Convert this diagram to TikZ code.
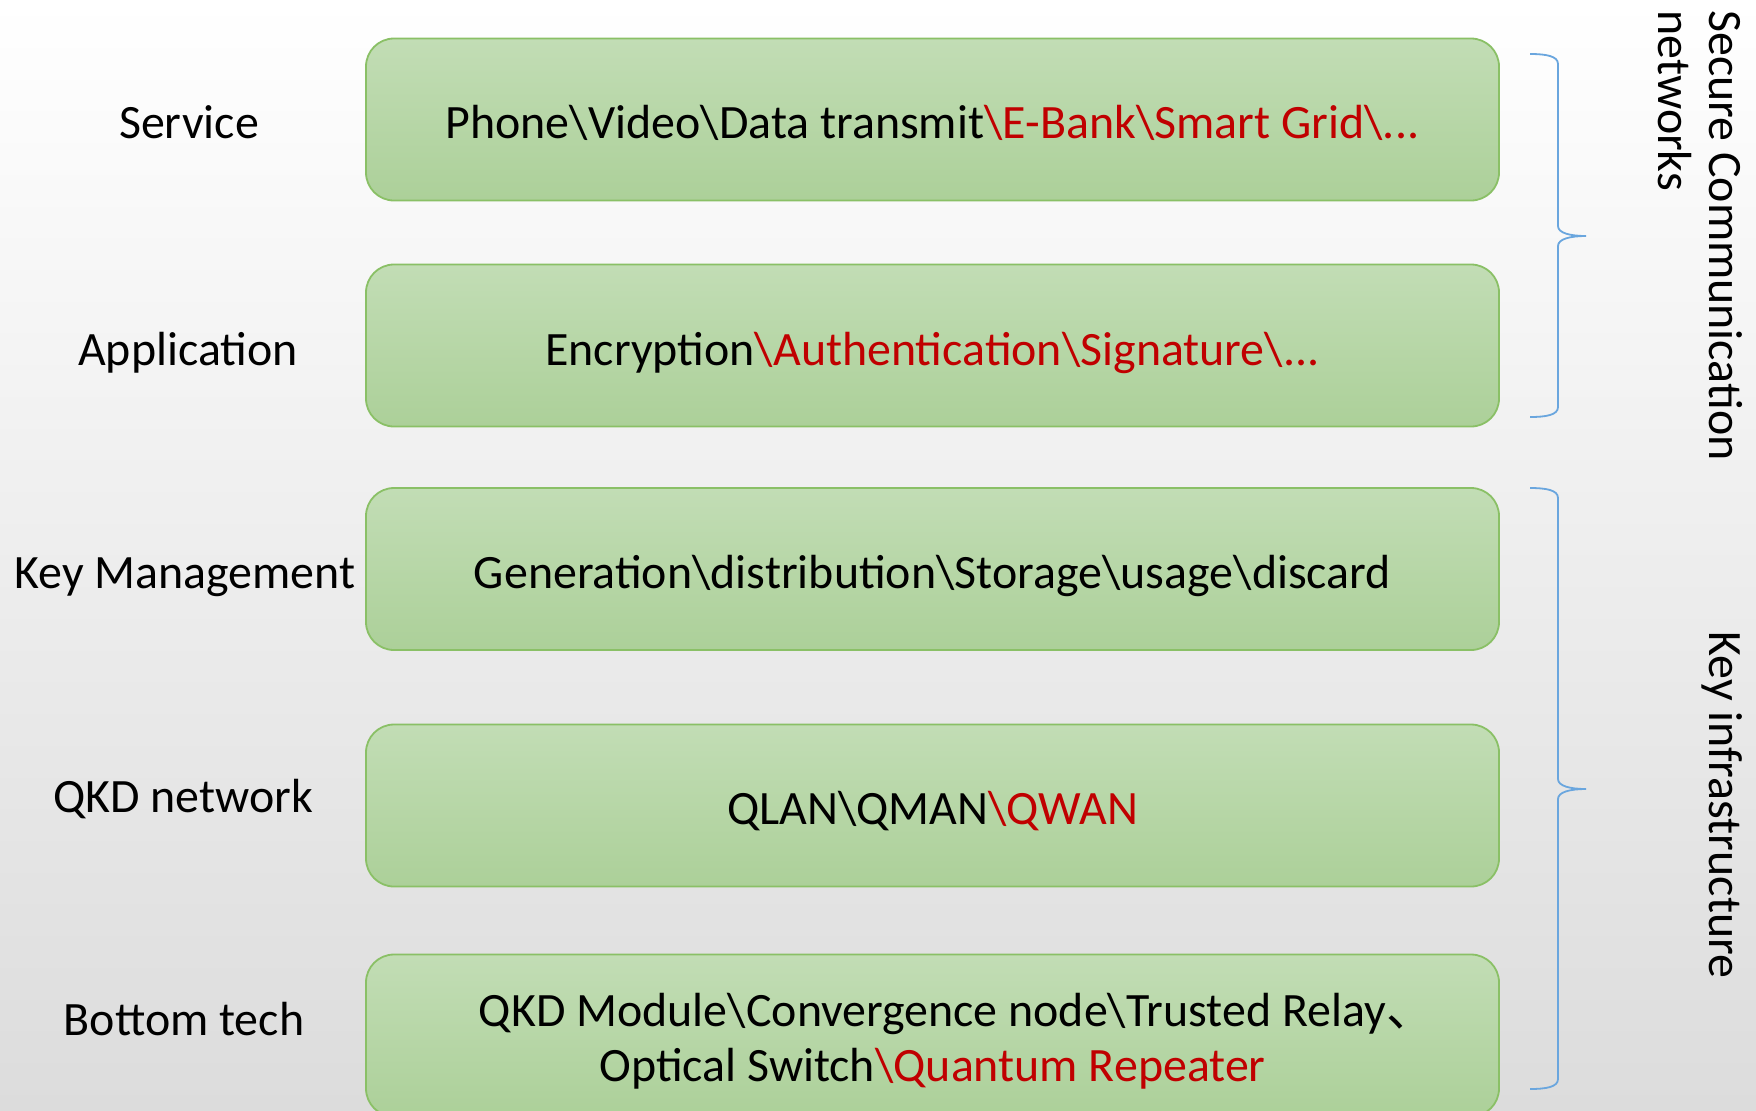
\documentclass[tikz,border=0pt]{standalone}
\usepackage{fontspec}
\setmainfont{Carlito}
\newfontfamily\cjkfont{Noto Sans CJK SC}
\usetikzlibrary{positioning}

\definecolor{bgMid}{HTML}{F6F6F6}
\definecolor{bgBot}{HTML}{DCDCDC}
\definecolor{boxTop}{HTML}{C2DDB5}
\definecolor{boxBot}{HTML}{ACD099}
\definecolor{boxLine}{HTML}{8AC066}
\definecolor{accentRed}{HTML}{C00000}
\definecolor{braceBlue}{HTML}{6AA6DE}

\newcommand\redpart[1]{\textcolor{accentRed}{#1}}
\newcommand\bs{\textbackslash}

\tikzset{
  layerbox/.style={shade, top color=boxTop, bottom color=boxBot,
    draw=boxLine, line width=0.9pt, rounded corners=14pt,
    minimum width=566.5pt, minimum height=81pt, inner sep=0pt},
  bodytext/.style={font=\fontsize{23.95pt}{28.7pt}\selectfont,
    inner sep=0pt, anchor=base, text=black},
  sidetext/.style={bodytext, anchor=base west, rotate=-90},
  bracepath/.style={draw=braceBlue, line width=0.9pt}
}

\begin{document}
\begin{tikzpicture}[x=0.5pt,y=-0.5pt]
\useasboundingbox (0,0) rectangle (1756,1110);
\clip (0,0) rectangle (1756,1110);

% backdrop
\shade[top color=white, middle color=bgMid, bottom color=bgBot]
  (0,0) rectangle (1756,1110);

% layer boxes
\node[layerbox] (b1) at (932.5,119.5) {};
\node[layerbox] (b2) at (932.5,345.5) {};
\node[layerbox] (b3) at (932.5,569)   {};
\node[layerbox] (b4) at (932.5,805.5) {};
\node[layerbox] (b5) at (932.5,1035.5) {};

% layer contents
\node[bodytext] (t1) at (932.5,138)
  {Phone\bs Video\bs Data transmit\redpart{\bs E-Bank\bs Smart Grid\bs ...}};
\node[bodytext] (t2) at (932.5,365)
  {Encryption\redpart{\bs Authentication\bs Signature\bs ...}};
\node[bodytext] (t3) at (932.5,588)
  {Generation\bs distribution\bs Storage\bs usage\bs discard};
\node[bodytext] (t4) at (932.5,824)
  {QLAN\bs QMAN\redpart{\bs QWAN}};
\node[bodytext] (t5a) at (932.5,1026)
  {QKD Module\bs Convergence node\bs Trusted Relay\rlap{\cjkfont 、}};
\node[bodytext] (t5b) at (932.5,1081)
  {Optical Switch\redpart{\bs Quantum Repeater}};

% layer names
\node[bodytext] (l1) at (189,138)  {Service};
\node[bodytext] (l2) at (188,365)  {Application};
\node[bodytext] (l3) at (185,588)  {Key Management};
\node[bodytext] (l4) at (183,812)  {QKD network};
\node[bodytext] (l5) at (184,1035) {Bottom tech};

% group braces
\draw[bracepath] (1530,54) .. controls (1546,54) and (1558,56) .. (1558,64)
  -- (1558,226) .. controls (1558,233) and (1570,236) .. (1586,236)
  .. controls (1570,236) and (1558,239) .. (1558,246)
  -- (1558,407) .. controls (1558,415) and (1546,417) .. (1530,417);
\draw[bracepath] (1530,488) .. controls (1546,488) and (1558,490) .. (1558,498)
  -- (1558,779) .. controls (1558,786) and (1570,789) .. (1586,789)
  .. controls (1570,789) and (1558,792) .. (1558,799)
  -- (1558,1079) .. controls (1558,1087) and (1546,1089) .. (1530,1089);

% group names
\node[sidetext] (g1a) at (1709,10) {Secure Communication};
\node[sidetext] (g1b) at (1658,10) {networks};
\node[sidetext] (g2)  at (1709,631) {Key infrastructure};
\end{tikzpicture}
\end{document}
